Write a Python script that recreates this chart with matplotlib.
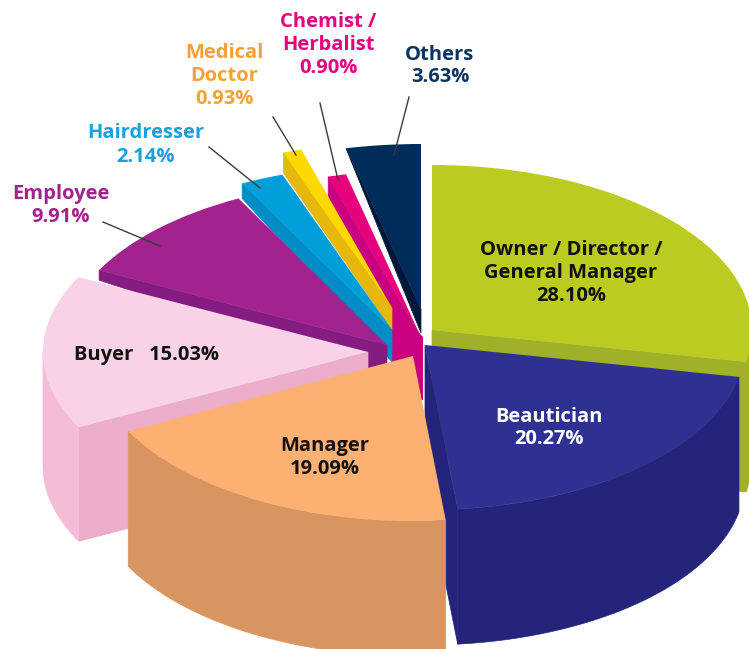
import numpy as np
import matplotlib
matplotlib.use('Agg')
import matplotlib.pyplot as plt
from matplotlib.patches import Wedge
from matplotlib.transforms import Affine2D

# data, clockwise from the top
categories = ['Owner / Director /\nGeneral Manager', 'Beautician', 'Manager', 'Buyer', 'Employee',
              'Hairdresser', 'Medical\nDoctor', 'Chemist /\nHerbalist', 'Others']
values = [28.10, 20.27, 19.09, 15.03, 9.91, 2.14, 0.93, 0.90, 3.63]

# colours: top, cut side, round side
top_colors = ['#BCCB20', '#2E3192', '#FCB172', '#F8D2E6', '#A2238D', '#009FDA', '#FFD800', '#E6007E', '#002C5A']
cut_colors = ['#9FB128', '#25247B', '#D89560', '#EBADC9', '#841C81', '#008CC5', '#E5B80B', '#C9007F', '#001738']
round_colors = ['#9FB128', '#25247B', '#D89560', '#F5BCD8', '#841C81', '#008CC5', '#E5B80B', '#C9007F', '#001738']
text_colors = ['#111111', '#FFFFFF', '#111111', '#111111', '#A2238D', '#1AA0DC', '#F7A134', '#E6007E', '#0B3560']

# layout in pixels: where each slice was pulled to, and how deep it looks
apex = [(432, 330), (425, 345), (413, 356), (368, 352), (387, 345), (392, 330), (392, 308), (420, 335), (421, 309)]
rx_list = [320, 320, 320, 325, 323, 326, 323, 327, 332]
depth = [130, 135, 135, 114, 0, 0, 0, 0, 0]
cut_side = [1, 1, None, 0, 0, 0, 0, 0, 0]
cut_depth = [(130, 130), (135, 135), None, (114, 114), (30, 10), (32, 15), (22, 20), (63, 20), (24, 0)]
order = [8, 7, 6, 5, 4, 0, 3, 1, 2]
label_pos = [(571, 273), (549, 428), (325, 457), (147, 355), (61, 205), (146, 145), (224, 76), (328, 45), (440, 66)]
leaders = [None, None, None, None, ((103, 222), (160, 246)), ((209, 147), (260, 188)),
           ((273, 117), (296, 155)), ((320, 103), (338, 180)), ((409, 97), (394, 155))]
chemist_hub = ([391, 423, 423, 391], [305, 337, 400, 400])
ry = 165

fig = plt.figure(figsize=(7.49, 6.49), dpi=100)
ax = fig.add_axes([0, 0, 1, 1])
ax.set_xlim(0, 749)
ax.set_ylim(649, 0)
ax.axis('off')

edges = np.concatenate([[0], np.cumsum(values)]) / sum(values) * 360


def rim(i, a):
    a = np.radians(a)
    return apex[i][0] + rx_list[i] * np.sin(a), apex[i][1] - ry * np.cos(a)


for i in order:
    a1, a2 = edges[i], edges[i + 1]
    x0, y0 = apex[i]
    # straight cut side
    if cut_side[i] is not None:
        xr, yr = rim(i, a2 if cut_side[i] else a1)
        d0, d1 = cut_depth[i]
        ax.fill([x0, xr, xr, x0], [y0, yr, yr + d1, y0 + d0], color=cut_colors[i], lw=0.5)
    if categories[i].startswith('Chemist'):
        ax.fill(chemist_hub[0], chemist_hub[1], color=cut_colors[i], lw=0)
    # round side, only the part that faces us
    lo, hi = max(a1, 90), min(a2, 270)
    if depth[i] > 0 and lo < hi:
        t = np.linspace(lo, hi, 80)
        xs, ys = rim(i, t)
        ax.fill(np.r_[xs, xs[::-1]], np.r_[ys, ys[::-1] + depth[i]], color=round_colors[i], lw=0.5)
    # top
    tr = Affine2D().scale(rx_list[i], ry).translate(x0, y0) + ax.transData
    ax.add_patch(Wedge((0, 0), 1, a1 - 90, a2 - 90, facecolor=top_colors[i], lw=0, transform=tr))

for seg in leaders:
    if seg is not None:
        ax.plot([seg[0][0], seg[1][0]], [seg[0][1], seg[1][1]], color='#3A3A3A', lw=1)

for i, name in enumerate(categories):
    pct = '%.2f%%' % values[i]
    label = name + '   ' + pct if name == 'Buyer' else name + '\n' + pct
    ax.text(label_pos[i][0], label_pos[i][1], label, color=text_colors[i], ha='center', va='center',
            family='Open Sans', weight='bold', fontsize=14.5, linespacing=1.2)

fig.savefig('out.png', dpi=100)
